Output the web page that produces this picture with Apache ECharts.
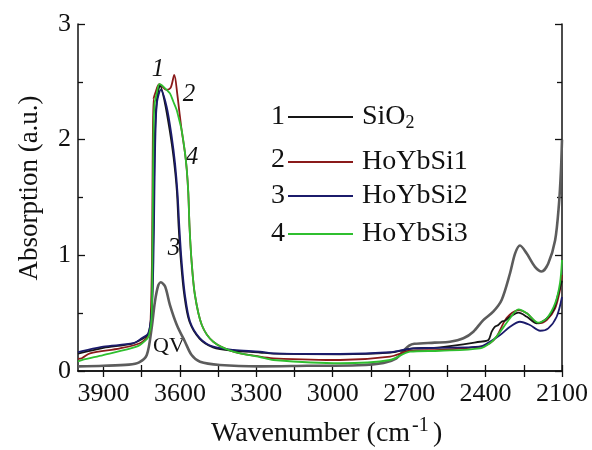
<!DOCTYPE html>
<html>
<head>
<meta charset="utf-8">
<script src="https://cdn.jsdelivr.net/npm/echarts@6/dist/echarts.min.js"></script>
<style>html,body{margin:0;padding:0;background:#fff}#c{width:592px;height:450px}</style>
</head>
<body>
<div id="c"></div>
<script>
// ---- data (wavenumber cm^-1, absorption a.u.) ----
const wnQV = [4000, 3900, 3800, 3760, 3730, 3711, 3698, 3685, 3675, 3658, 3639, 3612, 3580, 3554, 3521, 3443, 3286, 3100, 2900, 2800, 2750, 2720, 2700, 2680, 2600, 2540, 2487, 2448, 2409, 2370, 2337, 2304, 2284, 2265, 2239, 2206, 2180, 2154, 2127, 2112, 2104, 2100];
const absQV = [0.04, 0.045, 0.055, 0.075, 0.138, 0.37, 0.60, 0.74, 0.767, 0.73, 0.57, 0.398, 0.253, 0.138, 0.08, 0.052, 0.04, 0.045, 0.05, 0.07, 0.11, 0.18, 0.22, 0.235, 0.245, 0.253, 0.283, 0.34, 0.44, 0.513, 0.614, 0.845, 1.017, 1.085, 1.017, 0.90, 0.86, 0.93, 1.13, 1.44, 1.74, 2.0];

const wnSiO2 = [4000, 3900, 3790, 3750, 3724, 3711, 3706, 3702, 3698, 3690, 3678, 3660, 3640, 3625, 3612, 3605, 3596, 3583, 3563, 3523, 3470, 3390, 3286, 3233, 2971, 2775, 2710, 2684, 2579, 2422, 2389, 2376, 2363, 2350, 2337, 2324, 2304, 2271, 2238, 2199, 2167, 2134, 2114, 2100];
const absSiO2 = [0.15, 0.2, 0.235, 0.275, 0.32, 0.50, 0.95, 1.55, 2.05, 2.35, 2.47, 2.33, 2.08, 1.85, 1.56, 1.25, 0.95, 0.66, 0.43, 0.28, 0.205, 0.175, 0.16, 0.15, 0.145, 0.158, 0.185, 0.195, 0.205, 0.253, 0.268, 0.34, 0.383, 0.398, 0.426, 0.435, 0.469, 0.504, 0.469, 0.412, 0.441, 0.527, 0.672, 0.78];

const wnSi1 = [4000, 3985, 3953, 3835, 3757, 3725, 3717, 3710, 3707, 3704, 3702, 3697, 3681, 3652, 3636, 3622, 3610, 3602, 3593, 3580, 3573, 3567, 3562, 3554, 3541, 3514, 3469, 3390, 3286, 3233, 2971, 2775, 2697, 2579, 2422, 2383, 2356, 2317, 2271, 2238, 2193, 2160, 2127, 2108, 2100];
const absSi1 = [0.104, 0.11, 0.153, 0.196, 0.24, 0.30, 0.346, 0.9, 1.8, 2.35, 2.35, 2.40, 2.48, 2.43, 2.45, 2.56, 2.39, 2.24, 2.08, 1.885, 1.74, 1.54, 1.24, 0.945, 0.657, 0.398, 0.253, 0.167, 0.124, 0.11, 0.095, 0.124, 0.175, 0.182, 0.21, 0.24, 0.30, 0.46, 0.527, 0.499, 0.412, 0.441, 0.542, 0.70, 0.83];

const wnSi2 = [4000, 3992, 3901, 3783, 3750, 3724, 3711, 3704, 3700, 3696, 3690, 3675, 3652, 3632, 3619, 3609, 3602, 3593, 3580, 3560, 3521, 3469, 3390, 3286, 3233, 2971, 2775, 2710, 2684, 2579, 2422, 2383, 2343, 2304, 2265, 2226, 2186, 2154, 2121, 2100];
const absSi2 = [0.164, 0.167, 0.21, 0.24, 0.283, 0.326, 0.513, 0.945, 1.55, 2.05, 2.32, 2.43, 2.285, 2.025, 1.795, 1.53, 1.24, 0.945, 0.657, 0.426, 0.283, 0.21, 0.182, 0.167, 0.153, 0.147, 0.162, 0.188, 0.196, 0.2, 0.21, 0.253, 0.311, 0.383, 0.426, 0.398, 0.348, 0.369, 0.469, 0.64];

const wnSi3 = [4000, 3985, 3901, 3770, 3737, 3721, 3711, 3708, 3706, 3704, 3700, 3690, 3681, 3671, 3652, 3639, 3626, 3613, 3606, 3593, 3580, 3573, 3567, 3562, 3554, 3541, 3514, 3469, 3390, 3286, 3233, 2971, 2775, 2697, 2579, 2422, 2383, 2357, 2304, 2271, 2238, 2193, 2160, 2127, 2108, 2100];
const absSi3 = [0.082, 0.095, 0.138, 0.21, 0.26, 0.31, 0.46, 0.96, 1.52, 2.0, 2.30, 2.41, 2.48, 2.47, 2.43, 2.40, 2.33, 2.26, 2.20, 2.08, 1.885, 1.74, 1.54, 1.24, 0.945, 0.657, 0.398, 0.253, 0.167, 0.121, 0.095, 0.067, 0.095, 0.167, 0.175, 0.196, 0.24, 0.297, 0.456, 0.533, 0.499, 0.418, 0.456, 0.585, 0.76, 0.96];

const xTickLabels = [3900, 3600, 3300, 3000, 2700, 2400, 2100];
const xTickAll = [3900, 3750, 3600, 3450, 3300, 3150, 3000, 2850, 2700, 2550, 2400, 2250, 2100];
const seriesNames = ['SiO2', 'HoYbSi1', 'HoYbSi2', 'HoYbSi3'];
const seriesNums = ['1', '2', '3', '4'];

const zip = (a, b) => a.map((v, i) => [v, b[i]]);
const FONT = 'Liberation Serif';
const C = { qv: '#5c5c5c', s0: '#161616', s1: '#8a1a1a', s2: '#1b1b6b', s3: '#2fbf2f' };

const chart = echarts.init(document.getElementById('c'), null, { renderer: 'canvas' });

const xBase = {
  type: 'value', min: 2100, max: 4000, inverse: true,
  splitLine: { show: false },
  axisLine: { show: true, lineStyle: { color: '#111', width: 1.5 } },
  axisTick: { show: true, inside: true, length: 6, customValues: xTickAll, lineStyle: { color: '#111', width: 1.3 } }
};
const yBase = {
  type: 'value', min: 0, max: 3, interval: 1,
  splitLine: { show: false },
  axisLine: { show: true, lineStyle: { color: '#111', width: 1.5 } },
  axisTick: { show: true, inside: true, length: 7, lineStyle: { color: '#111', width: 1.3 } },
  minorTick: { show: true, splitNumber: 2, length: 5, lineStyle: { color: '#111', width: 1.3 } }
};

function line(name, wn, ab, color, width, z) {
  return {
    name: name, type: 'line', data: zip(wn, ab), showSymbol: false, symbol: 'none',
    smooth: 0.3, z: z,
    lineStyle: { color: color, width: width, join: 'round' }, itemStyle: { color: color }
  };
}

function legendItem(name, top) {
  return {
    data: [name], left: 288, top: top, orient: 'vertical',
    icon: 'rect', itemWidth: 65, itemHeight: 2,
    selectedMode: false, padding: 0,
    textStyle: {
      fontFamily: FONT, fontSize: 28, color: '#111', lineHeight: 30, padding: [0, 0, 0, 4],
      rich: { a: { fontFamily: FONT, fontSize: 28, lineHeight: 30 }, sub: { fontFamily: FONT, fontSize: 18, lineHeight: 30, verticalAlign: 'bottom', padding: [10, 0, 0, 0] } }
    },
    formatter: n => n === 'SiO2' ? '{a|SiO}{sub|2}' : n
  };
}

const txt = (x, y, t, font, extra) => ({ type: 'text', x: x, y: y, style: Object.assign({ text: t, font: font, fill: '#111', align: 'center', verticalAlign: 'middle' }, extra || {}) });

const option = {
  animation: false,
  backgroundColor: '#fff',
  grid: { left: 78, right: 30, top: 24, bottom: 79, containLabel: false },
  xAxis: [
    Object.assign({}, xBase, {
      position: 'bottom',
      axisLabel: { show: true, customValues: xTickLabels, formatter: v => String(v), fontFamily: FONT, fontSize: 26, color: '#111', margin: 10 }
    }),
    Object.assign({}, xBase, { position: 'top', axisLabel: { show: false } })
  ],
  yAxis: [
    Object.assign({}, yBase, {
      position: 'left',
      axisLabel: { show: true, fontFamily: FONT, fontSize: 26, color: '#111', margin: 7 }
    }),
    Object.assign({}, yBase, { position: 'right', axisLabel: { show: false } })
  ],
  legend: [legendItem(seriesNames[0], 102), legendItem(seriesNames[1], 147), legendItem(seriesNames[2], 181), legendItem(seriesNames[3], 219)],
  graphic: [
    // axis titles
    Object.assign(txt(30, 188, 'Absorption (a.u.)', '27px "Liberation Serif"'), { rotation: Math.PI / 2 }),
    { type: 'text', x: 211, y: 434, style: { text: 'Wavenumber (cm', font: '28px "Liberation Serif"', fill: '#111', align: 'left', verticalAlign: 'middle' } },
    { type: 'text', x: 412, y: 426, style: { text: '-1', font: '20px "Liberation Serif"', fill: '#111', align: 'left', verticalAlign: 'middle' } },
    { type: 'text', x: 433, y: 434, style: { text: ')', font: '28px "Liberation Serif"', fill: '#111', align: 'left', verticalAlign: 'middle' } },
    // legend numbers
    ...seriesNums.map((t, i) => ({ type: 'text', left: 271, top: [103, 146, 182, 220][i], style: { text: t, font: '28px "Liberation Serif"', fill: '#111' } })),
    // curve annotations
    txt(158, 69, '1', 'italic 25px "Liberation Serif"'),
    txt(189, 94, '2', 'italic 25px "Liberation Serif"'),
    txt(192, 157, '4', 'italic 25px "Liberation Serif"'),
    txt(174, 248, '3', 'italic 25px "Liberation Serif"'),
    txt(169, 346, 'QV', '22px "Liberation Serif"')
  ],
  series: [
    Object.assign(line('QV', wnQV, absQV, C.qv, 2.6, 1), { legendHoverLink: false }),
    line(seriesNames[1], wnSi1, absSi1, C.s1, 1.8, 2),
    line(seriesNames[0], wnSiO2, absSiO2, C.s0, 1.8, 3),
    line(seriesNames[2], wnSi2, absSi2, C.s2, 1.8, 4),
    line(seriesNames[3], wnSi3, absSi3, C.s3, 1.8, 5)
  ]
};
chart.setOption(option);
</script>
</body>
</html>
